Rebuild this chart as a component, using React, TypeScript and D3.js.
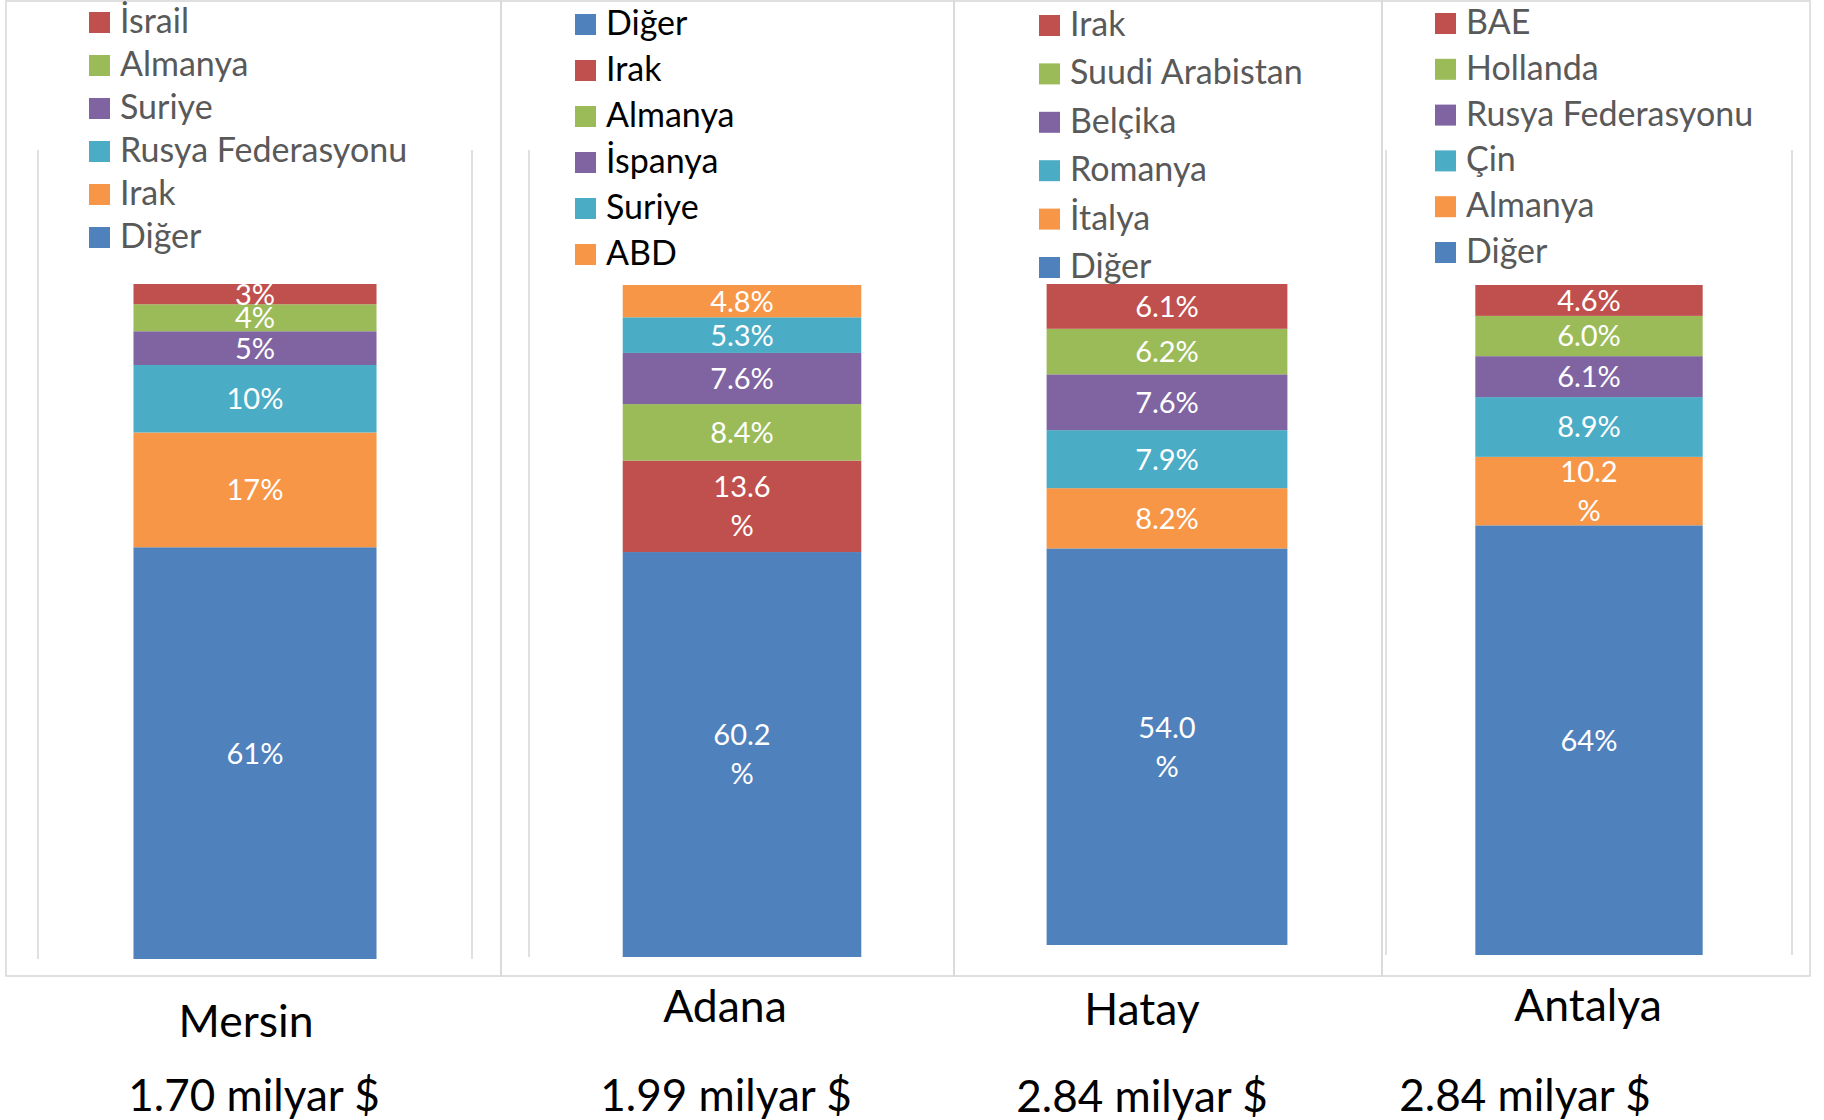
import React from "react";
import * as d3 from "d3";

const cities = ["Mersin", "Adana", "Hatay", "Antalya"];
const exportTotals = ["1.70 milyar $", "1.99 milyar $", "2.84 milyar $", "2.84 milyar $"];

// every list runs from the bottom of the stack to the top
const mersinCountries = ["Diğer", "Irak", "Rusya Federasyonu", "Suriye", "Almanya", "İsrail"];
const mersinValues = [61, 17, 10, 5, 4, 3];
const mersinLabels = ["61%", "17%", "10%", "5%", "4%", "3%"];

const adanaCountries = ["Diğer", "Irak", "Almanya", "İspanya", "Suriye", "ABD"];
const adanaValues = [60.2, 13.6, 8.4, 7.6, 5.3, 4.8];
const adanaLabels = ["60.2\n%", "13.6\n%", "8.4%", "7.6%", "5.3%", "4.8%"];

const hatayCountries = ["Diğer", "İtalya", "Romanya", "Belçika", "Suudi Arabistan", "Irak"];
const hatayValues = [54.0, 8.2, 7.9, 7.6, 6.2, 6.1];
const hatayLabels = ["54.0\n%", "8.2%", "7.9%", "7.6%", "6.2%", "6.1%"];

const antalyaCountries = ["Diğer", "Almanya", "Çin", "Rusya Federasyonu", "Hollanda", "BAE"];
const antalyaValues = [64, 10.2, 8.9, 6.1, 6.0, 4.6];
const antalyaLabels = ["64%", "10.2\n%", "8.9%", "6.1%", "6.0%", "4.6%"];

const BLUE = "#4F81BD", RED = "#C0504D", GREEN = "#9BBB59", PURPLE = "#8064A2", TEAL = "#4BACC6", ORANGE = "#F79646";
const defaultColors = [BLUE, ORANGE, TEAL, PURPLE, GREEN, RED];
const adanaColors = [BLUE, RED, GREEN, PURPLE, TEAL, ORANGE];

const FONT = "Lato, 'Open Sans', sans-serif";
const W = 1824;
const H = 1120;
const FRAME_TOP = 1;
const FRAME_BOTTOM = 976;
const GRID_TOP = 150;

const panels = [
  {
    countries: mersinCountries, values: mersinValues, labels: mersinLabels, colors: defaultColors,
    frame: [6, 501], plot: [38, 472], top: 284, bottom: 959, grid: [38, 472],
    legendX: 89, legendTop: 12, legendStep: 43, legendColor: "#595959", legendReverse: true,
    cityX: 246, cityY: 1037, totalX: 254, totalY: 1111,
  },
  {
    countries: adanaCountries, values: adanaValues, labels: adanaLabels, colors: adanaColors,
    frame: [501, 954], plot: [529, 955], top: 285, bottom: 957, grid: [529],
    legendX: 575, legendTop: 14, legendStep: 46, legendColor: "#000000", legendReverse: false,
    cityX: 725, cityY: 1022, totalX: 726, totalY: 1111,
  },
  {
    countries: hatayCountries, values: hatayValues, labels: hatayLabels, colors: defaultColors,
    frame: [954, 1382], plot: [952, 1382], top: 284, bottom: 945, grid: [],
    legendX: 1039, legendTop: 15, legendStep: 48.4, legendColor: "#595959", legendReverse: true,
    cityX: 1142, cityY: 1025, totalX: 1142, totalY: 1112,
  },
  {
    countries: antalyaCountries, values: antalyaValues, labels: antalyaLabels, colors: defaultColors,
    frame: [1382, 1810], plot: [1386, 1792], top: 285, bottom: 955, grid: [1386, 1792],
    legendX: 1435, legendTop: 13, legendStep: 45.8, legendColor: "#595959", legendReverse: true,
    cityX: 1588, cityY: 1021, totalX: 1525, totalY: 1111,
  },
];

const LABEL_SIZE = 29;
const LABEL_CAP = LABEL_SIZE * 0.717;
const LINE_GAP = 39;

function Panel({ p, city, total }: { p: any; city: string; total: string }) {
  const row: Record<string, number> = {};
  p.countries.forEach((c: string, i: number) => (row[c] = p.values[i]));
  const series = d3.stack<Record<string, number>>().keys(p.countries)([row]);

  const x = d3.scaleBand<string>().domain([city]).range(p.plot).paddingInner(0.44).paddingOuter(0.22);
  const y = d3.scaleLinear().domain([0, d3.sum(p.values)]).range([p.bottom, p.top]);

  const legendIdx = p.countries.map((_: string, i: number) => i);
  if (p.legendReverse) legendIdx.reverse();

  return (
    <g>
      <rect x={p.frame[0]} y={FRAME_TOP} width={p.frame[1] - p.frame[0]} height={FRAME_BOTTOM - FRAME_TOP}
        fill="none" stroke="#D9D9D9" strokeWidth={1.6} />
      {p.grid.map((gx: number, i: number) => (
        <line key={i} x1={gx} x2={gx} y1={GRID_TOP} y2={p.bottom} stroke="#D9D9D9" strokeWidth={1.6} />
      ))}
      {series.map((s, i) => (
        <rect key={s.key} x={x(city)} width={x.bandwidth()} y={y(s[0][1])}
          height={y(s[0][0]) - y(s[0][1])} fill={p.colors[i]} />
      ))}
      {series.map((s, i) => {
        const cy = (y(s[0][0]) + y(s[0][1])) / 2;
        const lines = p.labels[i].split("\n");
        const cx = (x(city) ?? 0) + x.bandwidth() / 2;
        return (
          <text key={s.key} x={cx} textAnchor="middle" fill="#FFFFFF" fontFamily={FONT} fontSize={LABEL_SIZE}>
            {lines.map((ln: string, j: number) => (
              <tspan key={j} x={cx}
                y={cy + LABEL_CAP / 2 + (j - (lines.length - 1) / 2) * LINE_GAP}>{ln}</tspan>
            ))}
          </text>
        );
      })}
      {legendIdx.map((i: number, k: number) => {
        const top = p.legendTop + k * p.legendStep;
        return (
          <g key={i}>
            <rect x={p.legendX} y={top} width={21} height={21} fill={p.colors[i]} />
            <text x={p.legendX + 31} y={top + 21} fill={p.legendColor} fontFamily={FONT} fontSize={34}>
              {p.countries[i]}
            </text>
          </g>
        );
      })}
      <text x={p.cityX} y={p.cityY} textAnchor="middle" fill="#000" fontFamily={FONT} fontSize={44.5}>{city}</text>
      <text x={p.totalX} y={p.totalY} textAnchor="middle" fill="#000" fontFamily={FONT} fontSize={44}>{total}</text>
    </g>
  );
}

export default function App() {
  return (
    <svg width={W} height={H} style={{ position: "absolute", left: 0, top: 0, background: "#fff" }}>
      <rect width={W} height={H} fill="#fff" />
      {panels.map((p, i) => (
        <Panel key={cities[i]} p={p} city={cities[i]} total={exportTotals[i]} />
      ))}
    </svg>
  );
}
